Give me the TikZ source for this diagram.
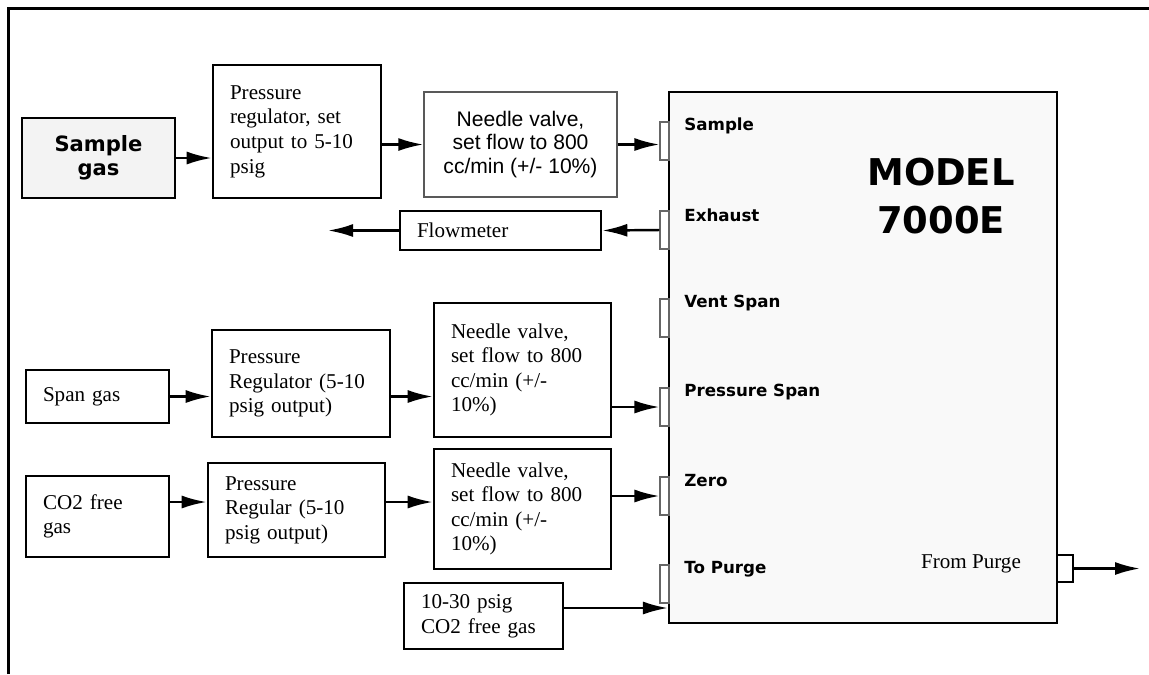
\documentclass[tikz,border=0pt]{standalone}
\usepackage{fontspec}
\setmainfont{Liberation Serif}
\setsansfont{Liberation Sans}
\newfontfamily\portfont{DejaVu Sans}
\usepackage{tikz}
\usetikzlibrary{arrows.meta, positioning}
\definecolor{panelgray}{HTML}{F9F9F9}
\definecolor{srcgray}{HTML}{F3F3F3}

\begin{document}
\begin{tikzpicture}[
  x=0.02cm, y=-0.02cm,
  every node/.style={font=\fontsize{12}{14}\selectfont},
  box/.style={draw, line width=1.5pt, fill=white, align=left,
              inner xsep=0.34cm, inner ysep=0pt},
  valve/.style={draw=black!65, line width=0.8pt, fill=white, align=center,
                font=\sffamily\fontsize{12}{13.5}\selectfont},
  port/.style={draw=black!60, line width=0.6pt, fill=white,
               minimum width=0.18cm, minimum height=0.76cm, inner sep=0pt},
  plabel/.style={anchor=west, inner sep=0pt,
                 font=\portfont\bfseries\fontsize{9.5}{11}\selectfont},
  arr/.style={-{Latex[length=0.5cm, width=0.26cm]}, line width=1.4pt},
]
  \useasboundingbox (0,0) rectangle (1149,674);
  \draw[line width=1.2pt] (8.5,674) -- (8.5,8.5) -- (1149,8.5);

  % sample line
  \node[box, fill=srcgray, align=center, minimum width=3.06cm, minimum height=1.6cm,
        font=\portfont\bfseries\fontsize{12}{13.6}\selectfont] (sample) at (98.5,158) {Sample\\gas};
  \node[box, text width=2.68cm, minimum height=2.66cm] (preg1) at (297,131.5)
        {Pressure\\regulator, set\\output to 5-10\\psig};
  \node[valve, minimum width=3.86cm, minimum height=2.1cm] (needle1) at (520.5,144.5)
        {Needle valve,\\set flow to 800\\cc/min (+/- 10\%)};
  \node[box, text width=3.34cm, minimum height=0.78cm] (flow) at (500.5,230.5) {Flowmeter};
  \coordinate (ventEnd) at (328,230.5);

  % analyzer
  \node[draw, line width=1.2pt, fill=panelgray, minimum width=7.76cm,
        minimum height=10.62cm] (model) at (863,357.5) {};
  \foreach \y/\n/\t in {141/Sam/Sample, 230/Exh/Exhaust, 318/Vnt/Vent Span,
                        407/Prs/Pressure Span, 496/Zer/Zero, 584/Prg/To Purge} {
    \node[port] (p\n) at (664.5,\y) {};
    \node[plabel] (l\n) at (684,\y-15) {\t};
  }
  \node[font=\portfont\bfseries\fontsize{21}{27}\selectfont, align=center]
        (title) at (941,196) {MODEL\\7000E};
  \node (fromlbl) at (971,564) {From Purge};
  \node[draw, line width=1.2pt, fill=white, minimum width=0.32cm,
        minimum height=0.54cm, inner sep=0pt] (pOut) at (1065,568.5) {};
  \coordinate (outEnd) at (1140,568.5);

  % span line
  \node[box, text width=2.18cm, minimum height=1.06cm] (span) at (97.5,396.5) {Span gas};
  \node[box, text width=2.88cm, minimum height=2.14cm] (preg2) at (301,383.5)
        {Pressure\\Regulator (5-10\\psig output)};
  \node[box, text width=2.86cm, minimum height=2.68cm] (needle2) at (522.5,370)
        {Needle valve,\\set flow to 800\\cc/min (+/-\\10\%)};

  % zero line
  \node[box, text width=2.18cm, minimum height=1.62cm] (co2) at (97.5,516.5) {CO2 free\\gas};
  \node[box, text width=2.86cm, minimum height=1.88cm] (preg3) at (296.5,510)
        {Pressure\\Regular (5-10\\psig output)};
  \node[box, text width=2.86cm, minimum height=2.4cm] (needle3) at (522.5,509)
        {Needle valve,\\set flow to 800\\cc/min (+/-\\10\%)};
  \coordinate (row3) at (0,502);

  \node[box, text width=2.5cm, minimum height=1.32cm] (purgegas) at (483.5,616)
        {10-30 psig\\CO2 free gas};
  \coordinate (row4) at (0,608);

  \draw[arr] (sample.east) -- (sample.east -| preg1.west);
  \draw[arr] (needle1.west -| preg1.east) -- (needle1.west);
  \draw[arr] (needle1.east) -- (needle1.east -| pSam.west);
  \draw[arr] (pExh.west) -- (flow.east);
  \draw[arr] (flow.west) -- (ventEnd);
  \draw[arr] (span.east) -- (span.east -| preg2.west);
  \draw[arr] (span.east -| preg2.east) -- (span.east -| needle2.west);
  \draw[arr] (pPrs.west -| needle2.east) -- (pPrs.west);
  \draw[arr] (co2.east |- row3) -- (preg3.west |- row3);
  \draw[arr] (preg3.east |- row3) -- (needle3.west |- row3);
  \draw[arr] (pZer.west -| needle3.east) -- (pZer.west);
  \draw[arr] (purgegas.east |- row4) -- (model.west |- row4);
  \draw[arr] (pOut.east) -- (outEnd);
\end{tikzpicture}
\end{document}
